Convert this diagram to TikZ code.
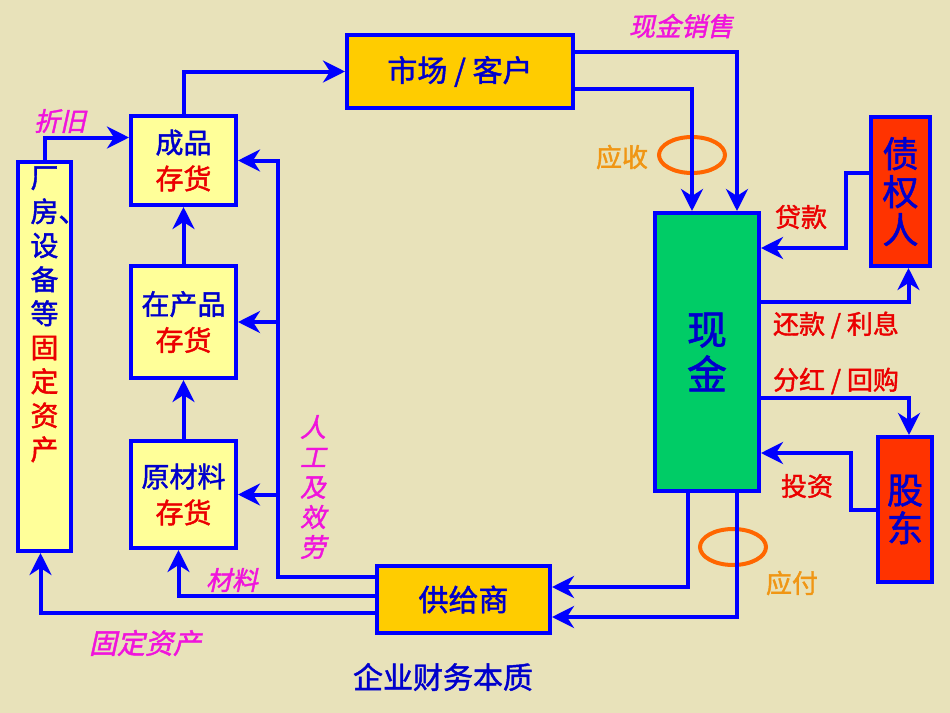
\documentclass[tikz,border=0pt]{standalone}
\usepackage{fontspec}
\setmainfont{Noto Sans CJK SC}[FakeBold=1.5]
\newfontfamily\slanted{Noto Sans CJK SC}[FakeBold=1.5,FakeSlant=0.22]
\usetikzlibrary{positioning, arrows.meta, calc, shapes.geometric}
\definecolor{bg}{RGB}{232,226,186}
\definecolor{ink}{RGB}{0,0,204}
\definecolor{edge}{RGB}{0,0,255}
\definecolor{gold}{RGB}{255,204,0}
\definecolor{pale}{RGB}{255,255,153}
\definecolor{cashgreen}{RGB}{0,204,102}
\definecolor{brick}{RGB}{255,51,0}
\definecolor{tag}{RGB}{240,20,220}
\definecolor{amber}{RGB}{240,150,20}
\definecolor{ring}{RGB}{255,102,0}
\definecolor{note}{RGB}{235,0,0}

\begin{document}
\begin{tikzpicture}[x=0.5pt, y=-0.5pt,
 >={Stealth[length=11pt, width=11pt, inset=3.5pt]},
 box/.style={draw=edge, line width=2pt, text=ink, align=center, inner sep=0pt},
 stock/.style={box, fill=pale, minimum width=52.5pt, font=\fontsize{14}{18}\selectfont},
 party/.style={box, fill=brick, font=\fontsize{18}{19}\selectfont},
 flow/.style={draw=edge, line width=2pt, ->},
 tagtext/.style={text=tag, font=\slanted\fontsize{13}{15}\selectfont, inner sep=0pt},
 notetext/.style={text=note, font=\fontsize{13}{15}\selectfont, inner sep=0pt},
 ringtext/.style={text=amber, font=\fontsize{13}{15}\selectfont, inner sep=0pt},
 loop/.style={draw=ring, line width=2pt, ellipse, minimum width=33pt, minimum height=18pt, inner sep=0pt}]
 \fill[bg] (0,0) rectangle (950,713);

 % boxes
 \node[box, fill=gold, minimum width=113pt, minimum height=36.5pt,
 font=\fontsize{15}{18}\selectfont] (mkt) at (460,71.5) {市场 / 客户};
 \node[stock, minimum height=44.5pt] (fin) at (183.5,160.5)
 {成品\\\textcolor{note}{存货}};
 \node[stock, minimum height=56pt] (wip) at (183.5,322)
 {在产品\\\textcolor{note}{存货}};
 \node[stock, minimum height=53.5pt] (raw) at (183.5,494.5)
 {原材料\\\textcolor{note}{存货}};
 \node[box, fill=pale, minimum width=26.5pt, minimum height=194.5pt] (plant) at (44.5,356.5) {};
 \node[text=ink, align=center, inner sep=0pt, anchor=north,
 font=\fontsize{14}{17}\selectfont] (plantlbl) at ([yshift=-3pt]plant.north)
 {厂\\房\rlap{、}\\设\\备\\等\\\textcolor{note}{固}\\\textcolor{note}{定}\\\textcolor{note}{资}\\\textcolor{note}{产}};
 \node[box, fill=gold, minimum width=86.5pt, minimum height=33.5pt,
 font=\fontsize{15}{18}\selectfont] (sup) at (463.5,599.5) {供给商};
 \node[box, fill=cashgreen, minimum width=52pt, minimum height=139pt,
 font=\fontsize{20}{22.5}\selectfont] (cash) at (707,352) {现\\金};
 \node[party, minimum width=29.5pt, minimum height=74.5pt] (cred) at (900.5,191.5)
 {债\\权\\人};
 \node[party, minimum width=27pt, minimum height=72.5pt] (stk) at (905,509.5)
 {股\\东};

 % rings
 \node[loop] (recv) at (692,155) {};
 \node[loop] (pay) at (733,547) {};

 % inventory chain
 \draw[flow] (fin.north) |- (mkt.west);
 \draw[flow] (wip.north) -- (fin.south);
 \draw[flow] (raw.north) -- (wip.south);
 \draw[flow] (plant.north) |- ($(fin.west)+(0,-23)$);

 % from suppliers
 \coordinate (lbr) at (278,577);
 \draw[flow] ($(sup.west)+(0,-22.5)$) -- (lbr) |- (fin.east);
 \draw[flow] (lbr |- wip.east) -- (wip.east);
 \draw[flow] (lbr |- raw.east) -- (raw.east);
 \draw[flow] ($(sup.west)+(0,-3.5)$) -| ($(raw.south)+(-5,0)$);
 \draw[flow] ($(sup.west)+(0,13.5)$) -| ($(plant.south)+(-4,0)$);

 % sales
 \draw[flow] ($(mkt.east)+(0,-19.5)$) -| ($(cash.north)+(30,0)$);
 \draw[flow] ($(mkt.east)+(0,17.5)$) -| ($(cash.north)+(-15,0)$);

 % creditors and shareholders
 \draw[flow] ($(cred.west)+(0,-18.5)$) -- ++(-23,0) |- ($(cash.east)+(0,-104)$);
 \draw[flow] ($(cash.east)+(0,-50)$) -| ($(cred.south)+(8,0)$);
 \draw[flow] ($(cash.east)+(0,46)$) -| ($(stk.north)+(4,0)$);
 \draw[flow] (stk.west) -- ++(-25,0) |- ($(cash.east)+(0,101)$);

 % payments
 \draw[flow] ($(cash.south)+(-19,0)$) |- ($(sup.east)+(0,-12.5)$);
 \draw[flow] ($(cash.south)+(30,0)$) |- ($(sup.east)+(0,17.5)$);

 % labels
 \node[tagtext] (cashsale) at (681,26) {现金销售};
 \node[ringtext] (recvlbl) at (622,157) {应收};
 \node[ringtext] (paylbl) at (792,583) {应付};
 \node[notetext] (loanlbl) at (801,217) {贷款};
 \node[notetext] (repaylbl) at (836,325) {还款 / 利息};
 \node[notetext] (divlbl) at (836,381) {分红 / 回购};
 \node[notetext] (invlbl) at (807,486) {投资};
 \node[tagtext] (deprlbl) at (60,121) {折旧};
 \node[tagtext] (matlbl) at (232,580) {材料};
 \node[tagtext, font=\slanted\fontsize{14}{15}\selectfont] (fixlbl) at (145,643) {固定资产};
 \node[tagtext, align=center, font=\slanted\fontsize{13}{15}\selectfont] (labourlbl) at (313,487)
 {人\\工\\及\\效\\劳};
 \node[text=ink, font=\fontsize{15}{18}\selectfont] (title) at (443,677) {企业财务本质};
\end{tikzpicture}
\end{document}
